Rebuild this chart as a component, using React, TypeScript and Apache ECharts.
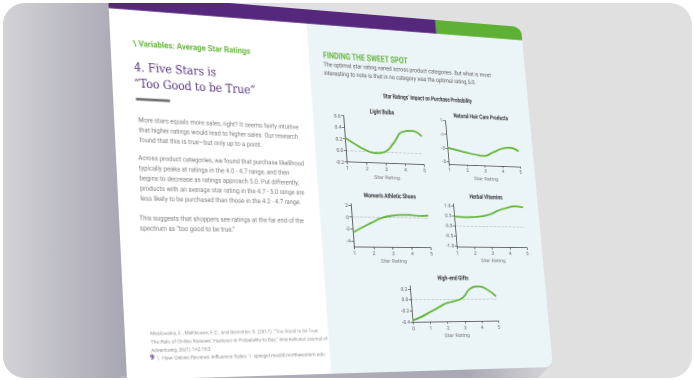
import React, { useEffect, useRef } from "react";
import * as echarts from "echarts";

// ---------------- data ----------------
const ratingSteps = [1, 1.5, 2, 2.5, 3, 3.5, 4, 4.5, 5];
const giftRatingSteps = [0, 0.5, 1, 1.5, 2, 2.5, 3, 3.5, 4, 4.5, 5];
const lightBulbs = [0.22, 0.11, 0.02, -0.03, 0.0, 0.17, 0.37, 0.39, 0.3];
const hairCare = [-3.0, -3.3, -3.6, -3.85, -4.0, -3.45, -2.85, -2.6, -3.1];
const athleticShoes = [-2.6, -1.7, -0.9, -0.1, 0.3, 0.5, 0.55, 0.4, 0.5];
const herbalVitamins = [0.47, 0.45, 0.46, 0.5, 0.6, 0.8, 0.95, 1.05, 1.0];
const highEndGifts = [-0.37, -0.31, -0.23, -0.15, -0.07, -0.03, 0.03, 0.2, 0.24, 0.18, 0.05];

const lightBulbTicks = [-0.2, 0, 0.2, 0.4, 0.6];
const hairCareTicks = [-5, -3, -1, 1];
const shoeTicks = [-4, -2, 0, 2];
const vitaminTicks = [-1, -0.5, 0, 0.5, 1];
const giftTicks = [-0.4, -0.2, 0, 0.2];

const chartTitles = ["Light Bulbs", "Natural Hair Care Products", "Women's Athletic Shoes", "Herbal Vitamins", "High-end Gifts"];

const kicker = "\\ Variables: Average Star Ratings";
const headingLines = ["4. Five Stars is", "\u201CToo Good to be True\u201D"];
const para1 = [
  "More stars equals more sales, right? It seems fairly intuitive",
  "that higher ratings would lead to higher sales. Our research",
  "found that this is true\u2014but only up to a point.",
];
const para2 = [
  "Across product categories, we found that purchase likelihood",
  "typically peaks at ratings in the 4.0 - 4.7 range, and then",
  "begins to decrease as ratings approach 5.0. Put differently,",
  "products with an average star rating in the 4.7 - 5.0 range are",
  "less likely to be purchased than those in the 4.2 - 4.7 range.",
];
const para3 = [
  "This suggests that shoppers see ratings at the far end of the",
  "spectrum as \u201Ctoo good to be true.\u201D",
];
const footnote = [
  "Maslowska, E., Malthouse, E.C., and Bernritter, S. (2017). \u201CToo Good to be True:",
  "The Role of Online Reviews\u2019 Features in Probability to Buy.\u201D International Journal of",
  "Advertising, 36(1) 142-163.",
];
const pageNumber = "9";
const footer = "\\  How Online Reviews Influence Sales  \\  spiegel.medill.northwestern.edu";
const sideTitle = "FINDING THE SWEET SPOT";
const sideIntro = [
  "The optimal star rating varied across product categories. But what is most",
  "interesting to note is that in no category was the optimal rating 5.0.",
];
const figureTitle = "Star Ratings\u2019 Impact on Purchase Probability";
const xAxisName = "Star Rating";

// ---------------- perspective of the photographed page ----------------
const SRC_W = 420;
const SRC_H = 387;
const CORNERS = [
  [108, -7],
  [521, 27],
  [553, 367],
  [127, 380],
];

function homography() {
  const [[x0, y0], [x1, y1], [x2, y2], [x3, y3]] = CORNERS;
  const dx1 = x1 - x2, dx2 = x3 - x2, dx3 = x0 - x1 + x2 - x3;
  const dy1 = y1 - y2, dy2 = y3 - y2, dy3 = y0 - y1 + y2 - y3;
  const den = dx1 * dy2 - dx2 * dy1;
  const g = (dx3 * dy2 - dx2 * dy3) / den;
  const h = (dx1 * dy3 - dx3 * dy1) / den;
  const a = x1 - x0 + g * x1, b = x3 - x0 + h * x3, c = x0;
  const d = y1 - y0 + g * y1, e = y3 - y0 + h * y3, f = y0;
  return [a / SRC_W, b / SRC_H, c, d / SRC_W, e / SRC_H, f, g / SRC_W, h / SRC_H];
}
const HM = homography();
function toPage(X: number, Y: number) {
  const [A, B, C, D, E, F, G, H] = HM;
  const a11 = A - X * G, a12 = B - X * H, b1 = X - C;
  const a21 = D - Y * G, a22 = E - Y * H, b2 = Y - F;
  const det = a11 * a22 - a12 * a21;
  return [(b1 * a22 - a12 * b2) / det, (a11 * b2 - b1 * a21) / det];
}
const MATRIX = `matrix3d(${HM[0]},${HM[3]},0,${HM[6]},${HM[1]},${HM[4]},0,${HM[7]},0,0,1,0,${HM[2]},${HM[5]},0,1)`;

// layout of the five small charts, in photo coordinates
const CHARTS = [
  { xs: ratingSteps, ys: lightBulbs, ticks: lightBulbTicks, dec: 1, yMin: -0.2, yMax: 0.6, xMin: 1, zero: true, ax: 347, top: 116, base: 162, endX: 424, endY: 164, tx: 382, ty: 112 },
  { xs: ratingSteps, ys: hairCare, ticks: hairCareTicks, dec: 0, yMin: -5.4, yMax: 1, xMin: 1, zero: false, ax: 449, top: 121, base: 164, endX: 520, endY: 166, tx: 481, ty: 117 },
  { xs: ratingSteps, ys: athleticShoes, ticks: shoeTicks, dec: 0, yMin: -5, yMax: 2.2, xMin: 1, zero: true, ax: 354, top: 204, base: 247, endX: 431, endY: 250, tx: 390, ty: 196 },
  { xs: ratingSteps, ys: herbalVitamins, ticks: vitaminTicks, dec: 1, yMin: -1.05, yMax: 1.1, xMin: 1, zero: true, ax: 457, top: 204, base: 247, endX: 527, endY: 249, tx: 486, ty: 197 },
  { xs: giftRatingSteps, ys: highEndGifts, ticks: giftTicks, dec: 1, yMin: -0.4, yMax: 0.25, xMin: 0, zero: true, ax: 413, top: 286, base: 322, endX: 498, endY: 318, tx: 453, ty: 278 },
];

const SANS = "Roboto, 'Noto Sans', sans-serif";
const GREEN = "#66b63f";
const PURPLE = "#55287d";

function txt(sx: number, sy: number, text: string, fontSize: number, fill: string, o: any = {}) {
  const [x, y] = toPage(sx, sy);
  return {
    type: "text",
    x,
    y,
    scaleX: o.scaleX ?? 1,
    z: 5,
    style: {
      text,
      fontSize,
      fill,
      fontFamily: o.fontFamily ?? SANS,
      fontWeight: o.fontWeight ?? "normal",
      align: o.align ?? "left",
      verticalAlign: o.verticalAlign ?? "middle",
      lineHeight: o.lineHeight,
    },
  };
}

function buildPageOption() {
  const bandH = toPage(300, 23)[1];
  const splitX = toPage(436, 27)[0];
  const blueX = toPage(319, 200)[0];
  const ruleA = toPage(136, 99);
  const ruleB = toPage(170, 101);

  const grids: any[] = [];
  const xAxes: any[] = [];
  const yAxes: any[] = [];
  const series: any[] = [];
  const titles: any[] = [];

  CHARTS.forEach((c, i) => {
    const o = toPage(c.ax, c.base);
    const t = toPage(c.ax, c.top);
    const r = toPage(c.endX, c.endY);
    grids.push({ left: o[0], top: t[1], width: r[0] - o[0], height: o[1] - t[1], containLabel: false, z: 10 });
    xAxes.push({
      type: "value",
      gridIndex: i,
      z: 10,
      min: c.xMin,
      max: 5,
      interval: 1,
      name: xAxisName,
      nameLocation: "middle",
      nameGap: 12,
      nameTextStyle: { fontSize: 5.5, color: "#808080", fontFamily: SANS },
      axisLine: { show: true, onZero: false, lineStyle: { color: "#555", width: 0.9 } },
      axisTick: { show: true, length: 2.5, lineStyle: { color: "#555", width: 0.8 } },
      axisLabel: { fontSize: 5, color: "#666", margin: 4, fontFamily: SANS },
      splitLine: { show: false },
    });
    yAxes.push({
      type: "value",
      gridIndex: i,
      z: 10,
      min: c.yMin,
      max: c.yMax,
      axisLine: { show: true, onZero: false, lineStyle: { color: "#555", width: 0.9 } },
      axisTick: { show: true, length: 2.5, customValues: c.ticks, lineStyle: { color: "#555", width: 0.8 } },
      axisLabel: {
        customValues: c.ticks,
        fontSize: 5,
        color: "#666",
        margin: 3,
        fontFamily: SANS,
        formatter: (v: number) => Number(v).toFixed(c.dec),
      },
      splitLine: { show: false },
    });
    series.push({
      type: "line",
      xAxisIndex: i,
      yAxisIndex: i,
      z: 12,
      data: c.xs.map((x, j) => [x, c.ys[j]]),
      smooth: 0.5,
      showSymbol: false,
      silent: true,
      lineStyle: { color: GREEN, width: 1.9 },
      markLine: c.zero
        ? {
            symbol: "none",
            silent: true,
            label: { show: false },
            lineStyle: { type: "dashed", color: "#b9b9b9", width: 0.7 },
            data: [{ yAxis: 0 }],
          }
        : undefined,
    });
    titles.push(txt(c.tx, c.ty, chartTitles[i], 7, "#333", { fontWeight: "bold", align: "center", scaleX: 0.72 }));
  });

  const graphics: any[] = [
    { type: "rect", z: 0, shape: { x: 0, y: 0, width: SRC_W, height: SRC_H, r: [0, 9, 9, 0] }, style: { fill: "#ffffff" } },
    { type: "rect", z: 0, shape: { x: blueX, y: 0, width: SRC_W - blueX, height: SRC_H, r: [0, 9, 9, 0] }, style: { fill: "#ebf4f6" } },
    { type: "rect", z: 0, shape: { x: 0, y: 0, width: splitX, height: bandH }, style: { fill: PURPLE } },
    { type: "rect", z: 0, shape: { x: splitX, y: 0, width: SRC_W - splitX, height: bandH, r: [0, 9, 0, 0] }, style: { fill: "#5fb136" } },
    { type: "rect", z: 0, shape: { x: ruleA[0], y: ruleA[1] - 1.2, width: ruleB[0] - ruleA[0], height: 2.6 }, style: { fill: "#707070" } },
    txt(133, 43, kicker, 9, GREEN, { fontWeight: "bold", scaleX: 0.82 }),
    txt(134, 67, headingLines[0], 12.5, "#52307f", { fontFamily: "'DejaVu Serif', serif", scaleX: 0.8 }),
    txt(134, 83, headingLines[1], 12.5, "#52307f", { fontFamily: "'DejaVu Serif', serif", scaleX: 0.8 }),
    txt(138, 115, para1.join("\n"), 7, "#7a7a7a", { verticalAlign: "top", lineHeight: 10.2, scaleX: 0.82 }),
    txt(138, 153, para2.join("\n"), 7, "#7a7a7a", { verticalAlign: "top", lineHeight: 10.2, scaleX: 0.82 }),
    txt(139, 213, para3.join("\n"), 7, "#7a7a7a", { verticalAlign: "top", lineHeight: 10.2, scaleX: 0.82 }),
    txt(150, 329, footnote.join("\n"), 5, "#8a8a8a", { verticalAlign: "top", lineHeight: 8.2, scaleX: 0.9 }),
    txt(150, 358, pageNumber, 6.5, PURPLE, { fontWeight: "bold" }),
    txt(157, 358, footer, 5.2, "#8a8a8a", { scaleX: 0.92 }),
    txt(323, 55, sideTitle, 10, GREEN, { fontWeight: "bold", scaleX: 0.72 }),
    txt(323, 60, sideIntro.join("\n"), 6.8, "#5a5a5a", { verticalAlign: "top", lineHeight: 9.5, scaleX: 0.8 }),
    txt(428, 98, figureTitle, 7, "#333", { fontWeight: "bold", align: "center", scaleX: 0.68 }),
    ...titles,
  ];

  return {
    animation: false,
    grid: grids,
    xAxis: xAxes,
    yAxis: yAxes,
    series,
    graphic: { elements: graphics },
  };
}

function buildBackgroundOption() {
  return {
    animation: false,
    graphic: {
      elements: [
        { type: "rect", shape: { x: 0, y: 0, width: 694, height: 380 }, style: { fill: "#e0e0e0" } },
        {
          type: "rect",
          shape: { x: 0, y: 0, width: 135, height: 380 },
          style: {
            fill: new echarts.graphic.LinearGradient(0, 0, 1, 0, [
              { offset: 0, color: "#d4d4d7" },
              { offset: 1, color: "#a4a3b1" },
            ]),
          },
        },
        {
          type: "polygon",
          shape: { points: [[120, 376], [553, 363], [536, 380], [120, 380]] },
          style: {
            fill: new echarts.graphic.LinearGradient(0, 0, 1, 0, [
              { offset: 0, color: "#b3b2bd" },
              { offset: 0.8, color: "#a9a8b5" },
              { offset: 1, color: "#d6d6d9" },
            ]),
          },
        },
      ],
    },
  };
}

export default function App() {
  const bgRef = useRef<HTMLDivElement>(null);
  const pageRef = useRef<HTMLDivElement>(null);

  useEffect(() => {
    const bg = echarts.init(bgRef.current!, undefined, { renderer: "svg" });
    bg.setOption(buildBackgroundOption() as any);
    const page = echarts.init(pageRef.current!, undefined, { renderer: "svg" });
    page.setOption(buildPageOption() as any);
    return () => {
      bg.dispose();
      page.dispose();
    };
  }, []);

  return (
    <div style={{ position: "fixed", left: 0, top: 0, width: 694, height: 380, background: "#ffffff", overflow: "hidden" }}>
      <div
        style={{
          position: "absolute",
          left: 0,
          top: 0,
          width: 694,
          height: 380,
          clipPath: "inset(3px 2px 2px 3px round 22px)",
          overflow: "hidden",
        }}
      >
        <div ref={bgRef} style={{ position: "absolute", left: 0, top: 0, width: 694, height: 380 }} />
        <div
          ref={pageRef}
          style={{
            position: "absolute",
            left: 0,
            top: 0,
            width: SRC_W,
            height: SRC_H,
            transformOrigin: "0 0",
            transform: MATRIX,
          }}
        />
      </div>
    </div>
  );
}
